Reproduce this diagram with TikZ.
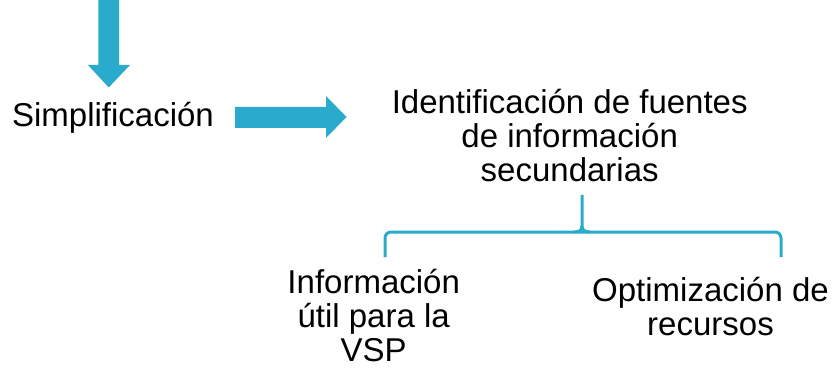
\documentclass[tikz,border=0pt]{standalone}
\usepackage{fontspec}
\setmainfont{Liberation Sans}
\definecolor{accent}{RGB}{42,170,204}
\begin{document}
\begin{tikzpicture}[x=1pt,y=-1pt,
  lbl/.style={inner sep=0pt,outer sep=0pt,align=center,anchor=base,font=\fontsize{33}{34.3}\selectfont,text=black},
  blockarrow/.style={fill=accent,draw=none},
  bracket/.style={draw=accent,line width=3pt,rounded corners=6pt}]
\useasboundingbox (0,0) rectangle (832,374);
% down arrow
\fill[blockarrow] (98.3,0) -- (119,0) -- (119,65) -- (130,65) -- (108.7,87.5) -- (88,65) -- (98.3,65) -- cycle;
% right arrow
\fill[blockarrow] (235,107) -- (326,107) -- (326,96) -- (346.5,117) -- (326,138) -- (326,128) -- (235,128) -- cycle;
% last-line baselines are used as anchors
\node[lbl] (simp) at (113,126.7) {Simplificación};
\node[lbl] (ident) at (569.7,181.8) {Identificación de fuentes\\de información\\secundarias};
\node[lbl] (info) at (373.7,361.7) {Información\\útil para la\\VSP};
\node[lbl] (opt) at (710.5,335.5) {Optimización de\\recursos};
% bracket
\coordinate (top) at (582,195);
\coordinate (lft) at (385,257);
\coordinate (rgt) at (781,257);
\draw[bracket] (lft) -- (385,232) -- (582,232) -- (rgt |- 0,232) -- (rgt);
\draw[draw=accent,line width=3pt] (top) -- (582,226) .. controls (582,231) and (586,232) .. (590,232);
\draw[draw=accent,line width=3pt] (582,226) .. controls (582,231) and (578,232) .. (574,232);
\end{tikzpicture}
\end{document}
